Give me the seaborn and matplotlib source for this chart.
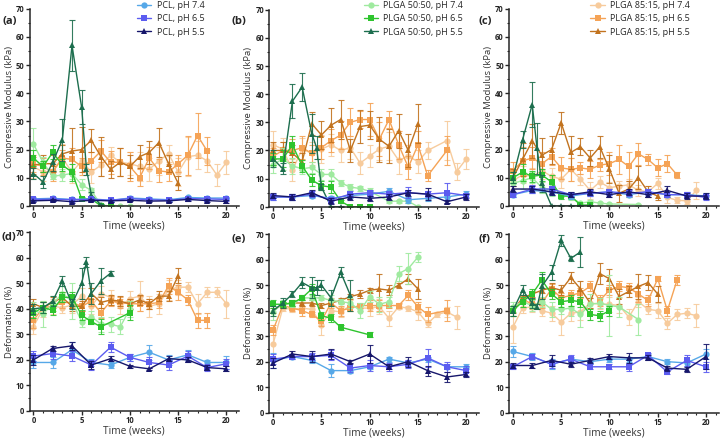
import numpy as np
import pandas as pd
import matplotlib
matplotlib.use("Agg")
import matplotlib.pyplot as plt
from matplotlib.ticker import MultipleLocator
import seaborn as sns

# ---- time axes shared by several series ----
wk_even = [0, 2, 4, 6, 8, 10, 12, 14, 16, 18, 20]

# ---- panel (a): compressive modulus ----
a_pcl74 = (wk_even, [2.5, 2.7, 2.3, 2.5, 2.0, 2.8, 2.5, 2.2, 3.0, 2.8, 2.8], [0.6, 0.5, 0.5, 0.6, 0.5, 0.6, 0.5, 0.5, 0.6, 0.5, 0.5])
a_pcl65 = (wk_even, [2.3, 2.4, 2.2, 2.3, 2.0, 2.6, 2.2, 2.0, 2.6, 2.5, 2.3], [0.5] * 11)
a_pcl55 = (wk_even, [1.8, 2.0, 1.5, 2.0, 1.8, 2.0, 1.7, 1.8, 2.3, 1.9, 1.6], [0.4] * 11)
a_g74 = (list(range(11)), [22, 15.5, 10.5, 11, 11.5, 7.5, 5.5, 0.3, 0, 0, 0], [5.5, 2, 1, 2, 2, 2, 1, 0.3, 0, 0, 0])
a_g65 = (list(range(9)), [17, 14, 19, 14.5, 12, 2.5, 2.5, 0, 0], [3, 2, 2.5, 2, 3, 0.5, 0.5, 0.2, 0.2])
a_g55 = ([0, 1, 2, 3, 4, 5, 5.5, 6, 7], [11.5, 8.5, 15.5, 23.5, 57, 35, 13, 4, 0.3], [2, 2, 3, 7.5, 9, 6, 2, 1, 0.3])
a_o74 = (list(range(21)), [14, 12, 12.5, 17, 12, 16, 12, 14.5, 18, 15.5, 15, 14, 13, 16, 18.5, 12, 17.5, 18, 16, 11, 15.5],
         [4, 3, 3, 5, 4, 4, 4, 4, 3, 5, 4, 5, 4, 5, 3, 5, 7, 5, 4, 4, 4])
a_o65 = (list(range(19)), [15, 14, 12, 17, 16.5, 14, 16, 19.5, 15.5, 15.5, 14, 10, 17, 12.5, 12, 15, 18, 25, 19.5],
         [3, 3, 3, 3, 4, 3, 3, 4, 4, 5, 5, 3, 4, 4, 3, 3, 7, 8, 5])
a_o55 = (list(range(16)), [14.5, 15, 15, 18.5, 19.5, 20, 23.3, 17.5, 13, 15.5, 14, 17.5, 19, 22.5, 15, 8],
         [3, 3, 3, 3, 8, 8, 4, 7, 3, 5, 4, 4, 4, 5, 3, 2.5])

# ---- panel (b): compressive modulus ----
b_pcl74 = (wk_even, [3.5, 3.5, 4, 3, 4, 4.5, 5.5, 2.5, 3, 3.5, 4.5], [1] * 11)
b_pcl65 = (wk_even, [3.5, 3.5, 4.5, 2.5, 4.5, 5, 4.5, 5, 4.5, 5, 4], [1, 1, 1, 1, 1, 1, 1, 2, 1, 3.5, 1])
b_pcl55 = (wk_even, [4, 3.5, 5, 2, 3.5, 3, 3.5, 5, 4.5, 1.8, 3.5], [1, 1, 1, 1, 1, 1, 1, 1, 2, 0.5, 1])
b_g74 = ([0, 1, 2, 3, 4, 5, 6, 7, 8, 9, 10, 12, 13, 14, 15], [15, 17, 14.5, 13.5, 14, 11.5, 11.5, 8.5, 7, 6.5, 5.5, 2, 2, 2, 0],
         [3, 4, 3, 2, 2, 2, 2, 1, 1, 1, 1, 0.5, 0.5, 0.5, 0.2])
b_g65 = (list(range(11)), [17, 17, 22, 14.5, 9.5, 7.5, 7, 2, 0, 0, 0], [2, 3, 3, 2, 2, 1.5, 2, 0.5, 0.2, 0.2, 0.2])
b_g55 = ([0, 1, 2, 3, 4, 4.5, 5, 6, 7], [17, 13.5, 37.5, 42.5, 26, 21, 7, 0, 0], [3, 2, 6, 5, 7, 4, 1, 0.2, 0.2])
b_o74 = ([0, 1, 2, 3, 4, 5, 6, 7, 8, 9, 10, 11, 12, 13, 14, 15, 16, 18, 19, 20],
         [22, 20.5, 13, 20.5, 19, 20.5, 22, 20, 21, 15.5, 18, 20.5, 21.5, 16.5, 18, 16, 20, 23.5, 12.5, 17],
         [5, 4, 4, 4, 4, 5, 4, 4, 4, 4, 4, 4, 5, 5, 4, 4, 3, 7, 3, 3.5])
b_o65 = ([0, 1, 2, 3, 4, 5, 6, 7, 8, 9, 10, 11, 12, 13, 14, 15, 16, 18],
         [18, 20, 20, 21, 19, 21, 23.5, 25.5, 30, 31, 31, 24, 31, 22, 14, 22, 11, 20],
         [3, 3, 4, 4, 3, 4, 4, 5, 5, 3, 6, 6, 3, 5, 4, 5, 2, 5])
b_o55 = (list(range(16)), [20, 20, 19, 16, 29.5, 25.5, 29, 31, 20, 28.5, 29, 24, 21.5, 27, 20, 29.5],
         [3, 3, 3, 3, 4, 5, 6, 7, 4, 6, 5, 8, 6, 6, 6, 7])

# ---- panel (c): compressive modulus ----
c_pcl74 = (wk_even, [4, 5.5, 5, 3.5, 4.5, 5, 4, 5, 4, 4, 3.5], [1] * 11)
c_pcl65 = (wk_even, [4, 6, 6, 4, 4.5, 5, 4.5, 5, 4, 4, 3], [1, 1.5, 1, 1, 1, 1, 1, 1, 1, 1, 1])
c_pcl55 = (wk_even, [6, 6, 5, 4, 5, 4, 5, 4, 5.5, 3.5, 3.5], [1, 1, 1, 1, 1, 1, 1, 1, 1.5, 1, 1])
c_g74 = ([0, 1, 2, 3, 4, 5, 6, 7, 8, 9, 10, 13], [8, 9, 10, 6.5, 5.5, 4, 3, 1, 1.5, 1, 0.7, 0.5],
         [3, 3, 2, 2, 2, 1, 1, 0.5, 0.5, 0.5, 0.3, 0.3])
c_g65 = (list(range(9)), [10, 12, 10.5, 11, 8.5, 3.5, 3.5, 0.3, 0.3], [2, 3, 2, 2, 2.5, 1, 1, 0.2, 0.2])
c_g55 = ([0, 1, 2, 2.5, 3, 4, 5, 6, 7, 8], [10, 23.5, 36, 20.5, 8, 0, 0, 0, 0, 0], [2, 3, 8, 9, 3, 0.2, 0.2, 0.2, 0.2, 0.2])
c_o74 = (list(range(20)), [9, 11, 10.5, 12.5, 10.5, 9.5, 13, 9.5, 5.5, 8.5, 6.5, 7, 7.5, 5.5, 5, 8, 3, 2, 1.8, 5.5],
         [3, 3, 3, 3, 3, 3, 4, 2, 3, 2, 2, 2, 2, 2, 2, 2, 2, 1, 1, 3])
c_o65 = (list(range(18)), [12.5, 16, 17, 15, 17.5, 13.5, 13, 13.5, 13, 14.5, 15, 16.5, 14, 18.5, 16.5, 13.5, 15, 11],
         [3, 5, 4, 4, 3, 4, 4, 2, 3, 2, 4, 5, 5, 4, 2, 3, 3, 1])
c_o55 = (list(range(16)), [10, 16.5, 23, 18, 20, 29.5, 19, 21, 17, 21, 13, 4.5, 6, 10, 5, 3.5],
         [3, 6, 6, 6, 5, 4, 6, 3, 3, 4, 5, 3, 3, 4, 2, 1.5])

# ---- panel (d): deformation ----
d_pcl74 = (wk_even, [19, 19, 24, 19, 18, 21, 23, 20, 22, 19, 19], [2, 2, 3, 1.5, 1, 1.5, 3, 2, 2, 1, 2.5])
d_pcl65 = (wk_even, [21.5, 22.5, 21.5, 18, 25, 21, 19, 18, 21.5, 17, 18.5], [2, 2, 2, 2, 2, 1.5, 2, 2, 2, 1.5, 2])
d_pcl55 = (wk_even, [20, 24.5, 25.5, 18, 20.5, 17.5, 16.5, 20.5, 20, 17, 16.5], [2, 1, 1.5, 1.5, 1, 0.5, 0.5, 1, 1, 1, 1])
d_g74 = (list(range(11)), [39.5, 38, 42, 46, 43, 35, 37, 34, 34, 33, 40], [3, 5, 3, 3, 7, 2, 2, 3, 3, 3, 3])
d_g65 = ([0, 1, 2, 3, 4, 5, 6, 7, 10], [38.5, 40.5, 39.5, 44.5, 44.5, 37.5, 35, 33, 38.5], [2, 2, 2, 2, 2, 2, 1, 3, 3])
d_g55 = ([0, 1, 2, 3, 4, 5, 5.5, 6, 7, 8], [40, 40.5, 43, 51, 42, 50, 58.5, 46, 51, 54], [2, 2, 2, 2, 2, 6, 2, 4, 5, 1])
d_o74 = (list(range(21)), [33, 40, 41, 40.5, 41.5, 45, 41, 46, 44.5, 41, 44, 45, 41, 42, 47.5, 48.5, 48.5, 42, 46.5, 46.5, 42],
         [3, 3, 3, 2, 3, 3, 3, 3, 3, 3, 3, 6, 4, 4, 4, 3, 2, 4, 2, 2, 5.5])
d_o65 = (list(range(19)), [35.5, 40.5, 41, 42.5, 42.5, 41, 43, 38.5, 43, 42.5, 42, 42, 42, 42.5, 49, 46.5, 43.5, 35.5, 35.5],
         [3, 2, 2, 2, 2, 3, 2, 2, 2, 2, 2, 3, 2, 2, 3, 3, 2, 3, 3])
d_o55 = (list(range(16)), [42, 40.5, 42.5, 44.5, 41, 41, 46, 42.5, 43.5, 43, 42, 43.5, 42, 45, 45, 53],
         [2, 2, 2, 2, 2, 2, 2, 2, 2, 2, 2, 2, 2, 2, 2, 3])

# ---- panel (e): deformation ----
e_pcl74 = (wk_even, [20.5, 22, 20.5, 16.5, 16.5, 18, 21, 19.5, 21, 18, 18], [3, 1, 1, 2.5, 1, 1, 1, 1, 1, 1, 1])
e_pcl65 = (wk_even, [21, 22, 22, 22.5, 17.5, 18.5, 18, 19, 21.5, 18, 16.5], [2, 1, 1.5, 2, 1.5, 2, 1.5, 1.5, 3.5, 2, 2])
e_pcl55 = (wk_even, [19.5, 23, 22, 23, 20, 23, 18, 20, 16.5, 14, 15], [2, 1, 2, 2, 0.5, 3.5, 1, 2, 2, 2, 1])
e_g74 = (list(range(16)), [39.5, 43, 42.5, 45, 45, 45, 44, 43.5, 43, 40, 45.5, 42.5, 43.5, 54.5, 56.5, 61],
         [3, 1, 1, 1, 1, 1, 2, 1, 2, 3, 2, 3, 2, 3, 6, 2])
e_g65 = ([0, 1, 2, 3, 4, 5, 6, 7, 10], [42.5, 42.5, 43, 45, 48.5, 38, 37, 33.5, 30.5], [1.5, 1, 1, 1, 2, 1.5, 1.5, 1, 1])
e_g55 = ([0, 1, 2, 3, 4, 4.5, 5, 6, 7, 8], [40, 43, 46.5, 51, 49, 49, 50, 45, 55, 46], [2, 2, 1, 2, 4, 3, 2, 3, 2, 6])
e_o74 = (list(range(20)), [27, 41, 40.5, 41, 40.5, 34.5, 40, 39.5, 42, 41, 41, 41.5, 37, 41.5, 41, 39.5, 35, 38.5, 39.5, 37.5],
         [5, 1, 1, 2, 2, 4, 2, 2, 2, 1, 3, 3, 3, 1, 1, 3, 1.5, 1, 2, 4.5])
e_o65 = ([0, 1, 2, 3, 4, 5, 6, 7, 8, 9, 10, 11, 12, 13, 14, 15, 16, 18],
         [32.5, 42, 41, 40, 38.5, 36, 43, 40, 41, 42, 42, 42, 42, 42, 46, 41.5, 38.5, 40],
         [2, 1, 1, 2, 1, 2, 2, 2, 1, 1, 2, 2, 1, 1, 2, 2, 3, 4])
e_o55 = (list(range(16)), [40, 42.5, 43, 43, 43, 42, 43, 44, 45.5, 46.5, 48, 48.5, 48, 50, 52.5, 48.5],
         [1, 1, 1, 1, 1, 1, 1, 1, 1, 1.5, 1, 6, 2, 1, 2, 4])

# ---- panel (f): deformation ----
f_pcl74 = (wk_even, [24, 22, 19, 21, 20, 21, 21, 22, 20, 19.5, 23], [2, 1.5, 2, 1, 1, 1, 1, 1, 1, 1, 2])
f_pcl65 = (wk_even, [18, 22, 19, 21, 18, 18, 18, 22.5, 16, 20.5, 18], [1, 1, 1.5, 1.5, 1, 1, 1.5, 1, 1, 2, 2])
f_pcl55 = (wk_even, [18.5, 18.5, 20.5, 19, 20.5, 22, 21.5, 21.5, 17.5, 17, 22], [1, 1, 2, 1, 1, 1, 2, 1, 1, 1, 5])
f_g74 = ([0, 1, 2, 3, 4, 5, 6, 7, 8, 9, 10, 11, 13], [41.5, 43.5, 42, 43.5, 40.5, 40.5, 41, 38.5, 42.5, 43, 42, 41.5, 36.5],
         [2, 2, 2, 2, 3, 2, 3, 5, 4, 2, 12, 4, 6])
f_g65 = (list(range(11)), [40, 43.5, 46.5, 52, 46.5, 43.5, 44, 43.5, 38.5, 38, 40], [2, 2, 2, 3, 2, 2, 2, 2, 2, 2, 2])
f_g55 = ([0, 1, 2, 2.5, 3, 4, 5, 6, 7], [40, 48, 43, 41.5, 49.5, 55, 67.5, 60.5, 63], [2, 2, 2, 1, 5, 3, 2, 1, 6])
f_o74 = (list(range(20)), [33.5, 41, 41.5, 40, 39, 35.5, 39, 39.5, 43, 42.5, 42.5, 42, 37.5, 43.5, 40.5, 40, 35, 38.5, 39, 38],
         [6, 2, 2, 2, 3, 5, 3, 3, 2, 2, 3, 3, 3, 2, 2, 3, 2, 2, 2, 4.5])
f_o65 = (list(range(18)), [40, 44.5, 42.5, 43, 48.5, 45, 46, 47, 49.5, 44, 48, 49.5, 49, 46.5, 44, 52.5, 40, 52],
         [2, 1, 2, 2, 2, 2, 2, 2, 2, 2, 2, 2, 2, 3, 2, 1, 2, 2])
f_o55 = (list(range(16)), [40, 45, 46.5, 48, 49, 48, 53, 48.5, 43, 54.5, 52.5, 45.5, 47.5, 49.5, 51, 46.5],
         [1, 1, 1, 1, 2, 2, 2, 3, 2, 4, 4, 3, 2, 5, 3, 3])

# ---- series styling ----
series_keys = ["o74", "o65", "o55", "g74", "g65", "g55", "pcl74", "pcl65", "pcl55"]
colors = {"pcl74": "#56a8e8", "pcl65": "#5b5cf0", "pcl55": "#16166b",
          "g74": "#9fea9f", "g65": "#2ec42e", "g55": "#1d6e4e",
          "o74": "#f7cb9c", "o65": "#f5a356", "o55": "#c2731f"}
markers = {"74": "o", "65": "s", "55": "^"}
labels = {"pcl74": "PCL, pH 7.4", "pcl65": "PCL, pH 6.5", "pcl55": "PCL, pH 5.5",
          "g74": "PLGA 50:50, pH 7.4", "g65": "PLGA 50:50, pH 6.5", "g55": "PLGA 50:50, pH 5.5",
          "o74": "PLGA 85:15, pH 7.4", "o65": "PLGA 85:15, pH 6.5", "o55": "PLGA 85:15, pH 5.5"}

panels = {
    "a": dict(a_pcl74=a_pcl74, a_pcl65=a_pcl65, a_pcl55=a_pcl55, a_g74=a_g74, a_g65=a_g65, a_g55=a_g55, a_o74=a_o74, a_o65=a_o65, a_o55=a_o55),
    "b": dict(b_pcl74=b_pcl74, b_pcl65=b_pcl65, b_pcl55=b_pcl55, b_g74=b_g74, b_g65=b_g65, b_g55=b_g55, b_o74=b_o74, b_o65=b_o65, b_o55=b_o55),
    "c": dict(c_pcl74=c_pcl74, c_pcl65=c_pcl65, c_pcl55=c_pcl55, c_g74=c_g74, c_g65=c_g65, c_g55=c_g55, c_o74=c_o74, c_o65=c_o65, c_o55=c_o55),
    "d": dict(d_pcl74=d_pcl74, d_pcl65=d_pcl65, d_pcl55=d_pcl55, d_g74=d_g74, d_g65=d_g65, d_g55=d_g55, d_o74=d_o74, d_o65=d_o65, d_o55=d_o55),
    "e": dict(e_pcl74=e_pcl74, e_pcl65=e_pcl65, e_pcl55=e_pcl55, e_g74=e_g74, e_g65=e_g65, e_g55=e_g55, e_o74=e_o74, e_o65=e_o65, e_o55=e_o55),
    "f": dict(f_pcl74=f_pcl74, f_pcl65=f_pcl65, f_pcl55=f_pcl55, f_g74=f_g74, f_g65=f_g65, f_g55=f_g55, f_o74=f_o74, f_o65=f_o65, f_o55=f_o55),
}
legend_group = {"a": "pcl", "b": "g", "c": "o"}

sns.set_style("ticks")
plt.rcParams["font.family"] = ["Open Sans", "DejaVu Sans"]

fig = plt.figure(figsize=(7.2, 4.4), dpi=100)
lefts = [0.041, 0.374, 0.707]
boxes = {"a": (lefts[0], 0.532), "b": (lefts[1], 0.530), "c": (lefts[2], 0.532),
         "d": (lefts[0], 0.066), "e": (lefts[1], 0.062), "f": (lefts[2], 0.062)}
legend_x = {"a": 0.185, "b": 0.50, "c": 0.815}
label_pos = {"a": (0.003, 0.945), "b": (0.322, 0.945), "c": (0.664, 0.945),
             "d": (0.002, 0.455), "e": (0.322, 0.450), "f": (0.664, 0.450)}

for name, data in panels.items():
    top = name in "abc"
    x0, y0 = boxes[name]
    ax = fig.add_axes([x0, y0, 0.291, 0.448 if top else 0.406])
    for key in series_keys:
        t, m, err = data[f"{name}_{key}"]
        col = colors[key]
        mk = markers[key[-2:]]
        ax.errorbar(t, m, yerr=err, fmt="none", ecolor=col, elinewidth=0.8, capsize=2, capthick=0.8, alpha=0.9)
        lab = labels[key] if top and key.startswith(legend_group[name]) else None
        sns.lineplot(x=t, y=m, ax=ax, color=col, marker=mk, markersize=4.5, markeredgewidth=0,
                     linewidth=1.0, label=lab, legend=False, sort=False)
    ax.set_xlim(-0.4, 21.3)
    ax.set_ylim(0, 70)
    ax.xaxis.set_major_locator(MultipleLocator(5))
    ax.xaxis.set_minor_locator(MultipleLocator(1))
    ax.yaxis.set_major_locator(MultipleLocator(10))
    ax.yaxis.set_minor_locator(MultipleLocator(5))
    ax.tick_params(which="major", length=2.8, width=1, labelsize=5.5, pad=1)
    ax.tick_params(which="minor", length=1.6, width=0.8)
    for lbl in ax.get_xticklabels() + ax.get_yticklabels():
        lbl.set_fontweight("bold")
    for sp in ["left", "bottom"]:
        ax.spines[sp].set_linewidth(1.1)
    sns.despine(ax=ax)
    ax.set_xlabel("Time (weeks)", fontsize=7.3, labelpad=0.3, color="#333333")
    ax.set_ylabel("Compressive Modulus (kPa)" if top else "Deformation (%)", fontsize=6.8, color="#333333", labelpad=1.5)
    if top:
        handles, labs = ax.get_legend_handles_labels()
        ax.legend(handles, labs, loc="upper left", bbox_to_anchor=(legend_x[name], 1.005),
                  bbox_transform=fig.transFigure, frameon=False, fontsize=6.5,
                  handlelength=1.6, handletextpad=0.6, labelspacing=0.45, borderaxespad=0)
    lx, ly = label_pos[name]
    fig.text(lx, ly, f"({name})", fontsize=8, fontweight="bold")

fig.savefig("out.png", dpi=100)
